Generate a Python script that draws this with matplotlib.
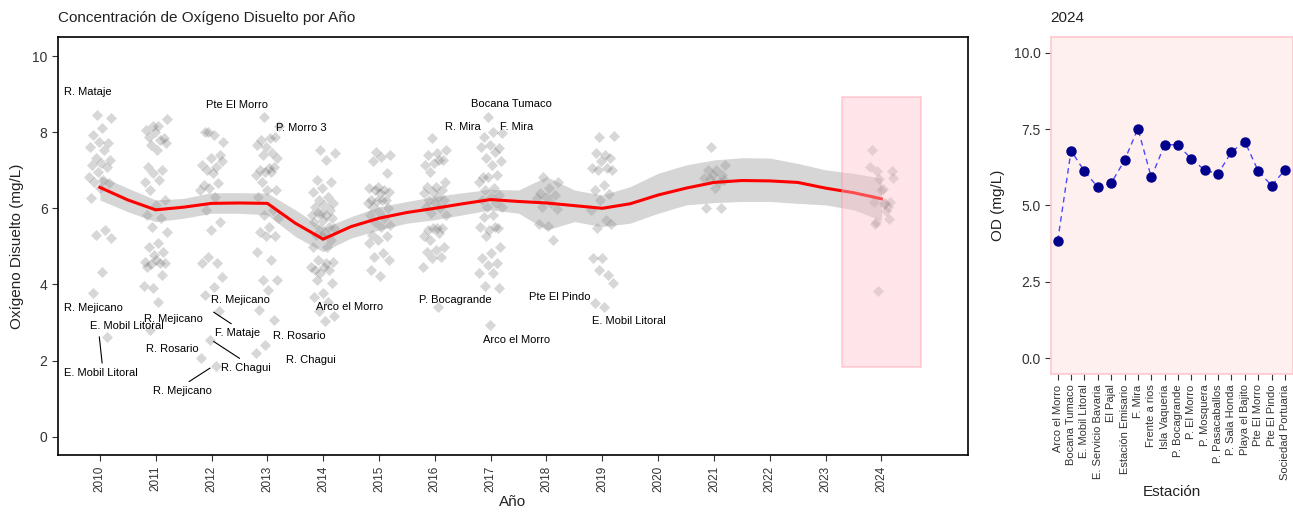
import numpy as np
import matplotlib
matplotlib.use("Agg")
import matplotlib.pyplot as plt
from matplotlib.patches import Rectangle

plt.rcParams['font.family'] = ['Liberation Sans', 'DejaVu Sans']

# ---------------- DATA ----------------
years = list(range(2010, 2025))
year_labels = [str(y) for y in years]

do_2010 = [8.45, 8.36, 8.10, 7.92, 7.71, 7.75, 7.62, 7.53, 7.31, 7.27, 7.18, 7.14, 7.09,
           6.96, 6.83, 6.75, 6.70, 6.66, 6.53, 6.26, 5.43, 5.30, 5.22, 4.34, 3.77, 2.63]
do_2011 = [8.15, 8.34, 8.15, 7.88, 7.84, 8.01, 8.06, 7.80, 7.66, 7.71, 7.53, 7.09, 7.01,
           6.92, 6.70, 6.75, 6.48, 6.22, 6.09, 5.83, 5.74, 5.52, 5.39, 5.08, 4.99, 4.86,
           4.78, 4.60, 4.56, 4.54, 4.57, 4.65, 4.47, 4.25, 3.90, 3.95, 3.55, 2.81]
do_2012 = [8.01, 7.75, 7.93, 8.01, 7.40, 7.31, 7.14, 7.09, 7.01, 7.23, 6.92, 6.61, 6.66,
           6.53, 6.48, 6.31, 5.96, 5.65, 5.43, 4.57, 4.57, 4.72, 4.20, 3.94, 3.73, 3.31,
           2.55, 2.07, 1.86]
do_2013 = [8.41, 8.15, 7.84, 7.80, 7.88, 7.62, 7.66, 7.45, 7.40, 7.31, 7.05, 7.01, 7.09,
           6.96, 6.88, 6.96, 6.70, 6.48, 6.48, 6.31, 5.96, 5.83, 5.74, 5.52, 5.39, 5.26,
           5.26, 4.86, 4.65, 4.12, 4.12, 3.86, 3.33, 3.07, 2.41, 2.20]
do_2014 = [7.53, 7.45, 7.27, 6.75, 6.70, 6.53, 6.44, 6.31, 6.22, 6.13, 6.09, 6.04, 5.96,
           5.87, 5.83, 5.83, 5.87, 5.74, 5.70, 5.65, 5.52, 5.48, 5.48, 5.35, 5.30, 5.17,
           5.26, 4.99, 4.99, 4.65, 4.60, 4.47, 4.38, 4.38, 4.30, 4.47, 4.56, 4.12, 4.03,
           3.77, 3.68, 3.55, 3.29, 3.16, 3.03]
do_2015 = [7.49, 7.40, 7.36, 7.23, 6.92, 6.57, 6.53, 6.48, 6.48, 6.44, 6.40, 6.22, 6.22,
           6.18, 6.13, 6.22, 6.04, 6.00, 5.91, 5.83, 5.74, 5.65, 5.56, 5.52, 5.30, 5.26,
           5.17, 5.08, 4.82, 4.73, 4.65, 4.21, 4.38]
do_2016 = [7.84, 7.53, 7.45, 7.40, 7.27, 7.18, 7.14, 7.27, 6.96, 6.70, 6.57, 6.57, 6.48,
           6.44, 6.40, 6.31, 6.22, 6.22, 6.13, 6.04, 6.00, 5.87, 5.83, 5.48, 5.43, 5.48,
           5.48, 5.26, 5.35, 5.17, 4.99, 4.91, 4.86, 4.73, 4.69, 4.47, 3.42]
do_2017 = [8.41, 7.97, 8.01, 7.88, 7.58, 7.66, 7.62, 7.49, 7.31, 7.23, 7.14, 6.83, 6.88,
           6.83, 6.70, 6.53, 6.48, 6.35, 6.31, 6.22, 6.13, 6.04, 6.04, 5.83, 5.78, 5.48,
           5.43, 5.52, 5.52, 5.26, 4.99, 4.82, 4.69, 4.56, 4.51, 4.30, 4.30, 3.95, 3.90, 2.94]
do_2018 = [6.83, 6.70, 6.53, 6.40, 6.35, 6.31, 6.26, 6.13, 6.04, 5.97, 5.54, 5.59, 5.17]
do_2019 = [7.88, 7.90, 7.40, 7.45, 7.31, 7.23, 7.05, 7.05, 7.01, 7.01, 6.61, 6.48, 6.38,
           6.22, 5.96, 5.70, 5.48, 5.59, 4.69, 4.69, 4.25, 4.38, 4.03, 3.42, 3.51]
do_2020 = []
do_2021 = [7.62, 7.14, 7.01, 7.01, 6.88, 6.88, 6.79, 6.70, 6.76, 6.75, 6.53, 6.00, 6.00]
do_2022 = []
do_2023 = []

# 2024 by station (right panel; also the 2024 points on the left)
stations = ["Arco el Morro", "Bocana Tumaco", "E. Mobil Litoral", "E. Servicio Bavaria",
            "El Pajal", "Estación Emisario", "F. Mira", "Frente a rios", "Isla Vaqueria",
            "P. Bocagrande", "P. El Morro", "P. Mosquera", "P. Pasacaballos",
            "P. Sala Honda", "Playa el Bajito", "Pte El Morro", "Pte El Pindo",
            "Sociedad Portuaria"]
od_2024 = [3.84, 6.80, 6.12, 5.60, 5.73, 6.48, 7.52, 5.92, 6.99, 6.99, 6.52, 6.16, 6.04,
           6.76, 7.09, 6.13, 5.65, 6.17]

# loess trend
smooth_x = [2010, 2010.5, 2011, 2011.5, 2012, 2012.5, 2013, 2013.5, 2014, 2014.5, 2015,
            2015.5, 2016, 2016.5, 2017, 2017.5, 2018, 2018.5, 2019, 2019.5, 2020, 2020.5,
            2021, 2021.5, 2022, 2022.5, 2023, 2023.5, 2024]
smooth_y = [6.55, 6.22, 5.96, 6.03, 6.13, 6.14, 6.13, 5.61, 5.19, 5.52, 5.74,
            5.89, 6.00, 6.12, 6.23, 6.18, 6.14, 6.07, 6.00, 6.12, 6.35, 6.53,
            6.68, 6.73, 6.72, 6.68, 6.53, 6.41, 6.25]
smooth_lo = [6.22, 5.91, 5.65, 5.74, 5.87, 5.87, 5.83, 5.26, 4.86, 5.22, 5.43,
             5.61, 5.70, 5.83, 5.96, 5.87, 5.43, 5.65, 5.52, 5.61, 5.87, 6.09,
             6.15, 6.18, 6.18, 6.13, 6.09, 5.96, 5.68]
smooth_hi = [6.85, 6.53, 6.22, 6.26, 6.41, 6.41, 6.40, 5.96, 5.48, 5.78, 6.04,
             6.18, 6.31, 6.41, 6.50, 6.48, 6.83, 6.48, 6.35, 6.57, 6.92, 7.14,
             7.27, 7.33, 7.32, 7.18, 7.01, 6.92, 6.79]

# outlier / extreme labels: (text, x, y)
label_text = ["R. Mataje", "Pte El Morro", "P. Morro 3", "R. Mira", "Bocana Tumaco", "F. Mira",
              "R. Mejicano", "E. Mobil Litoral", "E. Mobil Litoral", "R. Mejicano", "R. Rosario",
              "R. Mejicano", "R. Mejicano", "F. Mataje", "R. Chagui", "R. Rosario", "R. Chagui",
              "Arco el Morro", "P. Bocagrande", "Arco el Morro", "Pte El Pindo", "E. Mobil Litoral"]
label_x = [2009.79, 2012.45, 2013.61, 2016.50, 2017.37, 2017.46,
           2009.89, 2010.48, 2010.02, 2011.32, 2011.30,
           2011.47, 2012.52, 2012.47, 2012.61, 2013.57, 2013.78,
           2014.48, 2016.36, 2017.47, 2018.24, 2019.47]
label_y = [9.06, 8.71, 8.12, 8.14, 8.74, 8.14,
           3.38, 2.91, 1.67, 3.10, 2.31,
           1.19, 3.60, 2.72, 1.80, 2.65, 2.02,
           3.40, 3.60, 2.53, 3.67, 3.03]
seg_x0 = [2009.99, 2012.04, 2012.04, 2011.97]
seg_y0 = [2.62, 3.27, 2.50, 1.80]
seg_x1 = [2010.04, 2012.35, 2012.50, 2011.60]
seg_y1 = [1.94, 2.97, 2.06, 1.45]

highlight_year = 2024
highlight_box = (2023.3, 1.84, 1.4, 7.08)  # x, y, width, height

# ---------------- PLOT ----------------
W, H = 1293, 516
fig = plt.figure(figsize=(W / 100, H / 100), dpi=100)
ax1 = fig.add_axes([58 / W, 1 - 455 / H, 910 / W, 418 / H])
ax2 = fig.add_axes([1051 / W, 1 - 374 / H, 242 / W, 337 / H])

txt_col = '#222222'
tick_col = '#333333'

year_data = [do_2010, do_2011, do_2012, do_2013, do_2014, do_2015, do_2016, do_2017,
             do_2018, do_2019, do_2020, do_2021, do_2022, do_2023, od_2024]
phi = 0.6180339887
for yr, vals in zip(years, year_data):
    n = len(vals)
    if n == 0:
        continue
    # deterministic jitter (positional only)
    offs = np.array([((k * phi + 0.37) % 1.0) - 0.5 for k in range(n)]) * 0.42
    ax1.scatter(yr + offs, vals, marker='D', s=32, color='#555555', alpha=0.23,
                linewidths=0, zorder=2)

ax1.fill_between(smooth_x, smooth_lo, smooth_hi, color='#999999', alpha=0.4,
                 linewidth=0, zorder=3)
ax1.plot(smooth_x, smooth_y, color='red', lw=2.2, zorder=4)

bx, by, bw, bh = highlight_box
ax1.add_patch(Rectangle((bx, by), bw, bh, facecolor='#ffc0cb', alpha=0.4,
                        edgecolor='#ff8fa0', linewidth=1.2, zorder=5))

for t, x, y in zip(label_text, label_x, label_y):
    ax1.text(x, y, t, ha='center', va='center', fontsize=8, color='black', zorder=6)
for x0, y0, x1, y1 in zip(seg_x0, seg_y0, seg_x1, seg_y1):
    ax1.plot([x0, x1], [y0, y1], color='black', lw=0.8, zorder=6)

ax1.set_xlim(2009.25, 2025.55)
ax1.set_ylim(-0.48, 10.5)
ax1.set_xticks(years)
ax1.set_xticklabels(year_labels, rotation=90, fontsize=8.5, color=tick_col)
ax1.set_yticks([0, 2, 4, 6, 8, 10])
ax1.set_yticklabels(['0', '2', '4', '6', '8', '10'], fontsize=10, color=tick_col)
for s in ax1.spines.values():
    s.set_color('black')
    s.set_linewidth(1.2)
ax1.tick_params(length=4, width=0.8, color='#333333')
ax1.set_xlabel('Año', fontsize=11, color=txt_col, labelpad=2)
ax1.set_ylabel('Oxígeno Disuelto (mg/L)', fontsize=11, color=txt_col, labelpad=6)

# right panel
pos = np.arange(1, len(stations) + 1)
ax2.set_facecolor('#fff0f0')
ax2.plot(pos, od_2024, linestyle=(0, (4, 3)), color='#4a4aff', lw=1.0, zorder=2)
ax2.plot(pos, od_2024, linestyle='none', marker='o', markersize=6.5,
         color='#00008b', zorder=3)
ax2.set_xlim(0.5, 18.6)
ax2.set_ylim(-0.52, 10.52)
ax2.set_xticks(pos)
ax2.set_xticklabels(stations, rotation=90, fontsize=8, color=tick_col)
ax2.set_yticks([0, 2.5, 5, 7.5, 10])
ax2.set_yticklabels(['0.0', '2.5', '5.0', '7.5', '10.0'], fontsize=10, color=tick_col)
for s in ax2.spines.values():
    s.set_color('#ffc8cc')
    s.set_linewidth(1.2)
ax2.tick_params(length=4, width=0.8, color='#333333')
ax2.set_xlabel('Estación', fontsize=11, color=txt_col, labelpad=4)
ax2.set_ylabel('OD (mg/L)', fontsize=11, color=txt_col, labelpad=6)

fig.text(58 / W, 1 - 18 / H, 'Concentración de Oxígeno Disuelto por Año', ha='left',
         va='center', fontsize=11, color=txt_col)
fig.text(1050 / W, 1 - 18 / H, str(highlight_year), ha='left', va='center',
         fontsize=11, color=txt_col)

fig.savefig('out.png', dpi=100)
